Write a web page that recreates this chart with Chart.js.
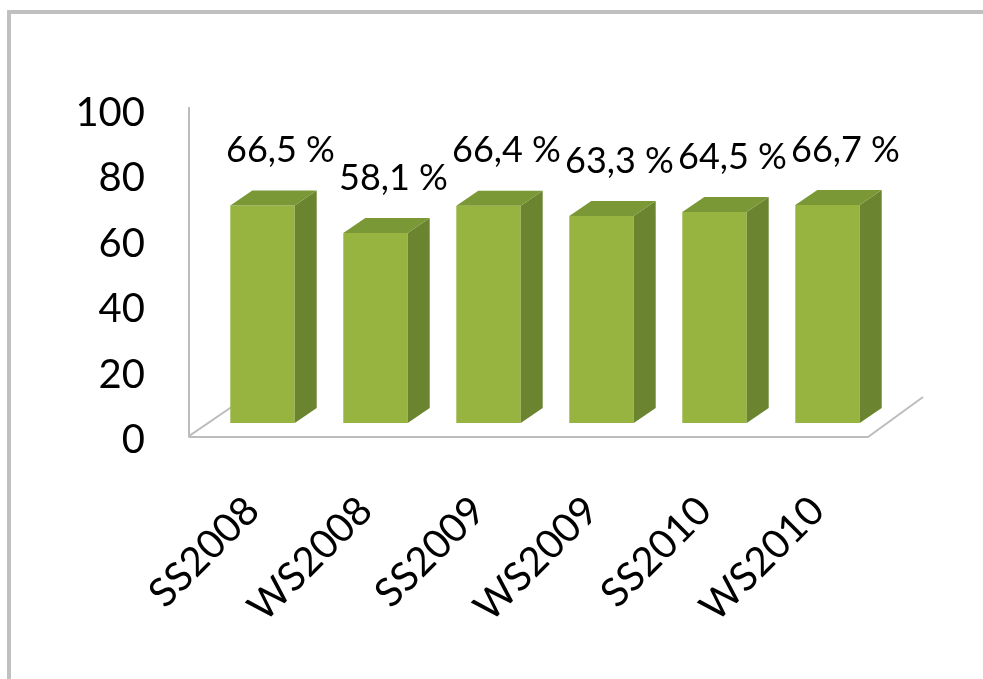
<!DOCTYPE html>
<html>
<head>
<meta charset="utf-8">
<script src="https://cdn.jsdelivr.net/npm/chart.js@4.4.0/dist/chart.umd.min.js"></script>
<style>
  html, body { margin: 0; padding: 0; background: #fff; }
</style>
</head>
<body>
<canvas id="plot" width="983" height="679"></canvas>
<script>
const semesters = ['SS2008', 'WS2008', 'SS2009', 'WS2009', 'SS2010', 'WS2010'];
const shares = [66.5, 58.1, 66.4, 63.3, 64.5, 66.7];
const shareLabels = ['66,5 %', '58,1 %', '66,4 %', '63,3 %', '64,5 %', '66,7 %'];
const yTicks = [0, 20, 40, 60, 80, 100];

// fake 3d depth of the columns
const DX = 22;
const DY = 15;

const frameAndFloorPlugin = {
  id: 'frame_and_floor',
  beforeDraw: (chart) => {
    const ctx = chart.ctx;
    const area = chart.chartArea;
    const y0 = chart.scales.y.getPixelForValue(0);
    const yTop = chart.scales.y.getPixelForValue(100);
    ctx.save();
    ctx.fillStyle = 'white';
    ctx.fillRect(0, 0, chart.width, chart.height);

    // outer frame, only left and top are in the picture
    ctx.strokeStyle = '#c0c0c0';
    ctx.lineWidth = 4;
    ctx.beginPath();
    ctx.moveTo(9, chart.height);
    ctx.lineTo(9, 12);
    ctx.lineTo(chart.width, 12);
    ctx.stroke();

    // wall edge and floor
    const wallX = area.left - 17;
    ctx.strokeStyle = '#bdbdbd';
    ctx.lineWidth = 2;
    ctx.beginPath();
    ctx.moveTo(wallX, yTop + 11);
    ctx.lineTo(wallX, y0 + 13);
    ctx.lineTo(wallX + 44, y0 + 13 - 30);
    ctx.moveTo(wallX, y0 + 14);
    ctx.lineTo(area.right - 16, y0 + 14);
    ctx.lineTo(area.right + 39, y0 - 26);
    ctx.stroke();
    ctx.restore();
  }
};

const columnsPlugin = {
  id: 'columns_3d',
  afterDatasetsDraw: (chart) => {
    const ctx = chart.ctx;
    const meta = chart.getDatasetMeta(0);
    ctx.save();
    meta.data.forEach((bar, i) => {
      const p = bar.getProps(['x', 'y', 'base', 'width'], true);
      const l = p.x - p.width / 2;
      const r = p.x + p.width / 2;
      // side
      ctx.fillStyle = '#6a842f';
      ctx.beginPath();
      ctx.moveTo(r, p.y);
      ctx.lineTo(r + DX, p.y - DY);
      ctx.lineTo(r + DX, p.base - DY);
      ctx.lineTo(r, p.base);
      ctx.closePath();
      ctx.fill();
      // top
      ctx.fillStyle = '#7a9836';
      ctx.beginPath();
      ctx.moveTo(l, p.y);
      ctx.lineTo(l + DX, p.y - DY);
      ctx.lineTo(r + DX, p.y - DY);
      ctx.lineTo(r, p.y);
      ctx.closePath();
      ctx.fill();

      ctx.fillStyle = '#000';
      ctx.font = '36px Lato';
      ctx.textAlign = 'center';
      ctx.textBaseline = 'middle';
      ctx.fillText(shareLabels[i], p.x + 18, p.y - 55);
    });
    ctx.restore();
  }
};

const chart = new Chart(document.getElementById('plot').getContext('2d'), {
  type: 'bar',
  plugins: [frameAndFloorPlugin, columnsPlugin],
  data: {
    labels: semesters,
    datasets: [{
      data: shares,
      backgroundColor: '#97b440',
      borderWidth: 0,
      barPercentage: 0.57,
      categoryPercentage: 1.0,
    }]
  },
  options: {
    responsive: false,
    animation: false,
    devicePixelRatio: 1,
    layout: {
      padding: { top: 96, right: 99, left: 0, bottom: 0 }
    },
    plugins: {
      legend: { display: false },
      tooltip: { enabled: false }
    },
    scales: {
      x: {
        grid: { display: false, drawTicks: false },
        border: { display: false },
        ticks: {
          autoSkip: false,
          maxRotation: 45,
          minRotation: 45,
          padding: 64,
          labelOffset: -10,
          color: '#000',
          font: { family: 'Lato', size: 40 }
        },
        afterFit: (scale) => { scale.height = 256; }
      },
      y: {
        min: 0,
        max: 100,
        grid: { display: false, drawTicks: false },
        border: { display: false },
        ticks: {
          padding: 61,
          labelOffset: 17,
          color: '#000',
          font: { family: 'Lato', size: 40 }
        },
        afterBuildTicks: (scale) => {
          scale.ticks = yTicks.map((v) => ({ value: v }));
        },
        afterFit: (scale) => { scale.width = 206; }
      }
    }
  }
});
</script>
</body>
</html>
